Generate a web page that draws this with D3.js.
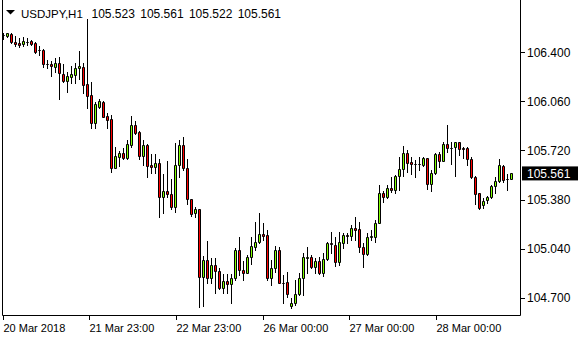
<!DOCTYPE html>
<html>
<head>
<meta charset="utf-8">
<script src="https://cdn.jsdelivr.net/npm/d3@7"></script>
<style>
  body { margin: 0; background: #fff; }
  svg { display: block; }
  text { font-family: "Liberation Sans", Arial, sans-serif; }
</style>
</head>
<body>
<div id="chart"></div>
<script>
const symbol = "USDJPY,H1";

// hourly bars
const opens = [
  106.523, 106.517, 106.531, 106.473, 106.466, 106.457, 106.473, 106.476, 106.462, 106.416,
  106.416, 106.319, 106.317, 106.300, 106.326, 106.249, 106.199, 106.231, 106.245, 106.289,
  106.298, 106.178, 106.104, 105.908, 106.023, 106.055, 105.958, 105.938, 105.600, 105.676,
  105.700, 105.667, 105.757, 105.896, 105.847, 105.683, 105.755, 105.617, 105.607, 105.631,
  105.399, 105.437, 105.416, 105.330, 105.617, 105.757, 105.596, 105.381, 105.284, 105.312,
  104.845, 104.961, 104.838, 104.926, 104.885, 104.764, 104.815, 104.794, 104.834, 105.030,
  104.891, 104.873, 104.979, 105.053, 105.083, 105.139, 105.134, 104.834, 104.903, 105.030,
  104.801, 104.806, 104.644, 104.661, 104.723, 104.834, 104.975, 104.979, 104.914, 104.954,
  104.873, 104.966, 105.081, 105.065, 104.949, 105.076, 105.134, 105.127, 105.180, 105.179,
  105.053, 105.002, 105.118, 105.118, 105.219, 105.423, 105.395, 105.462, 105.446, 105.543,
  105.589, 105.704, 105.640, 105.626, 105.628, 105.617, 105.665, 105.487, 105.561, 105.695,
  105.649, 105.764, 105.740, 105.742, 105.780, 105.739, 105.735, 105.658, 105.534, 105.423,
  105.342, 105.376, 105.395, 105.473, 105.510, 105.612, 105.525, 105.523
];
const highs = [
  106.537, 106.537, 106.533, 106.515, 106.497, 106.504, 106.501, 106.485, 106.469, 106.445,
  106.427, 106.346, 106.339, 106.358, 106.369, 106.319, 106.261, 106.305, 106.328, 106.409,
  106.328, 106.631, 106.192, 106.057, 106.074, 106.062, 105.977, 105.965, 105.742, 105.716,
  105.735, 105.792, 105.958, 105.924, 105.854, 105.792, 105.764, 105.695, 105.693, 105.658,
  105.557, 105.649, 105.522, 105.769, 105.792, 105.815, 105.658, 105.381, 105.326, 105.312,
  104.988, 105.094, 104.973, 104.973, 104.903, 104.864, 104.864, 104.862, 105.042, 105.118,
  104.956, 104.995, 105.118, 105.222, 105.288, 105.215, 105.169, 104.961, 105.058, 105.053,
  104.857, 104.880, 104.695, 104.822, 104.868, 105.011, 105.049, 104.995, 104.973, 104.979,
  105.007, 105.088, 105.157, 105.122, 105.153, 105.146, 105.150, 105.203, 105.261, 105.226,
  105.076, 105.146, 105.169, 105.238, 105.480, 105.439, 105.480, 105.538, 105.550, 105.676,
  105.751, 105.723, 105.676, 105.653, 105.676, 105.672, 105.669, 105.584, 105.704, 105.711,
  105.780, 105.896, 105.780, 105.780, 105.780, 105.746, 105.742, 105.672, 105.543, 105.423,
  105.388, 105.404, 105.480, 105.538, 105.658, 105.619, 105.557, 105.561
];
const lows = [
  106.492, 106.508, 106.462, 106.445, 106.439, 106.445, 106.450, 106.448, 106.393, 106.381,
  106.300, 106.289, 106.236, 106.265, 106.074, 106.194, 106.127, 106.189, 106.189, 106.213,
  106.116, 106.012, 105.873, 105.877, 106.012, 105.954, 105.877, 105.572, 105.600, 105.612,
  105.660, 105.658, 105.746, 105.834, 105.658, 105.619, 105.534, 105.565, 105.561, 105.256,
  105.284, 105.399, 105.316, 105.295, 105.538, 105.584, 105.349, 105.265, 105.261, 104.637,
  104.644, 104.804, 104.799, 104.730, 104.757, 104.734, 104.734, 104.661, 104.822, 104.857,
  104.822, 104.868, 104.931, 105.030, 105.076, 105.099, 104.822, 104.787, 104.880, 104.799,
  104.661, 104.706, 104.626, 104.649, 104.718, 104.718, 104.868, 104.903, 104.873, 104.864,
  104.850, 104.961, 105.011, 104.921, 104.926, 105.042, 105.081, 105.099, 105.099, 105.016,
  104.910, 104.995, 105.099, 105.088, 105.215, 105.365, 105.388, 105.434, 105.423, 105.446,
  105.543, 105.572, 105.554, 105.538, 105.584, 105.612, 105.453, 105.441, 105.557, 105.607,
  105.645, 105.711, 105.626, 105.543, 105.688, 105.665, 105.619, 105.527, 105.349, 105.314,
  105.319, 105.353, 105.393, 105.423, 105.503, 105.503, 105.446, 105.522
];
const closes = [
  106.523, 106.533, 106.469, 106.457, 106.452, 106.480, 106.473, 106.459, 106.404, 106.416,
  106.317, 106.319, 106.305, 106.326, 106.254, 106.199, 106.233, 106.249, 106.291, 106.305,
  106.175, 106.099, 105.908, 106.042, 106.062, 105.954, 105.931, 105.600, 105.679, 105.702,
  105.667, 105.764, 105.896, 105.843, 105.683, 105.755, 105.612, 105.607, 105.631, 105.399,
  105.437, 105.420, 105.330, 105.617, 105.757, 105.596, 105.381, 105.277, 105.312, 104.845,
  104.961, 104.838, 104.926, 104.885, 104.764, 104.815, 104.794, 104.834, 105.030, 104.891,
  104.873, 104.979, 105.058, 105.083, 105.139, 105.129, 104.834, 104.903, 105.030, 104.799,
  104.801, 104.723, 104.661, 104.723, 104.834, 104.979, 104.979, 104.914, 104.954, 104.868,
  104.966, 105.081, 105.072, 104.949, 105.083, 105.134, 105.125, 105.180, 105.171, 105.051,
  105.002, 105.122, 105.127, 105.219, 105.423, 105.395, 105.462, 105.446, 105.543, 105.589,
  105.700, 105.635, 105.624, 105.626, 105.624, 105.665, 105.487, 105.561, 105.695, 105.649,
  105.764, 105.735, 105.736, 105.776, 105.728, 105.728, 105.658, 105.534, 105.418, 105.323,
  105.371, 105.395, 105.473, 105.510, 105.619, 105.515, 105.520, 105.561
];

const priceTicks = [104.7, 105.04, 105.38, 105.72, 106.06, 106.4];
// time labels and the (fractional) bar index they sit on
const timeLabels = ["20 Mar 2018", "21 Mar 23:00", "22 Mar 23:00", "26 Mar 00:00", "27 Mar 00:00", "28 Mar 00:00"];
const timeIndex = [-0.2, 21.45, 43.1, 64.8, 86.45, 108.1];

class CandleChart {
  constructor(_config) {
    this.config = {
      parentElement: _config.parentElement,
      width: _config.width || 580,
      height: _config.height || 340,
      plotRight: 520.5,
      plotBottom: 315.5,
      plotLeft: 2.5,
    };
    this.initVis();
  }

  initVis() {
    let vis = this;
    let cfg = vis.config;

    vis.svg = d3.select(cfg.parentElement).append("svg")
      .attr("width", cfg.width)
      .attr("height", cfg.height);

    vis.bars = opens.map((o, i) => ({ i, o, h: highs[i], l: lows[i], c: closes[i] }));

    vis.x = d3.scaleLinear().domain([0, vis.bars.length - 1]).range([3.5, 511.5]);
    vis.y = d3.scaleLinear().domain([104.7, 106.4]).range([297.6, 52.4]);

    vis.renderVis();
  }

  renderVis() {
    let vis = this;
    let cfg = vis.config;
    const py = (p) => Math.round(vis.y(p)) + 0.5;

    // frame
    vis.svg.append("path")
      .attr("d", `M${cfg.plotLeft},0V${cfg.plotBottom}H${cfg.plotRight}V0`)
      .attr("fill", "none")
      .attr("stroke", "#000");

    // price axis
    let yAxis = vis.svg.append("g");
    yAxis.selectAll("line").data(priceTicks).join("line")
      .attr("x1", 521).attr("x2", 525)
      .attr("y1", (d) => py(d)).attr("y2", (d) => py(d))
      .attr("stroke", "#000");
    yAxis.selectAll("text").data(priceTicks).join("text")
      .attr("x", 527)
      .attr("y", (d) => vis.y(d) + 4.3)
      .attr("font-size", 12)
      .attr("fill", "#000")
      .text((d) => d.toFixed(3));

    // time axis
    let xAxis = vis.svg.append("g");
    xAxis.selectAll("line").data(timeIndex).join("line")
      .attr("x1", (d) => Math.round(vis.x(d)) + 0.5)
      .attr("x2", (d) => Math.round(vis.x(d)) + 0.5)
      .attr("y1", 316).attr("y2", 320)
      .attr("stroke", "#000");
    xAxis.selectAll("text").data(timeLabels).join("text")
      .attr("x", (d, k) => Math.round(vis.x(timeIndex[k])) + 0.5)
      .attr("y", 332)
      .attr("font-size", 11)
      .attr("fill", "#000")
      .text((d) => d);

    // candles
    let g = vis.svg.append("g");
    g.selectAll(".wick").data(vis.bars).join("line")
      .attr("class", "wick")
      .attr("x1", (d) => vis.x(d.i)).attr("x2", (d) => vis.x(d.i))
      .attr("y1", (d) => py(d.h) - 0.5).attr("y2", (d) => py(d.l) + 0.5)
      .attr("stroke", "#000");

    g.selectAll(".body").data(vis.bars).join("path")
      .attr("class", "body")
      .attr("d", (d) => {
        let x0 = vis.x(d.i) - 1, x1 = vis.x(d.i) + 1;
        let y0 = py(Math.max(d.o, d.c)), y1 = py(Math.min(d.o, d.c));
        return `M${x0},${y0}H${x1}V${y1}H${x0}Z`;
      })
      .attr("fill", (d) => (d.c > d.o ? "#80ff00" : d.c < d.o ? "#ff0000" : "none"))
      .attr("stroke", "#000");

    // current price marker
    let last = vis.bars[vis.bars.length - 1];
    vis.svg.append("rect")
      .attr("x", 522).attr("y", vis.y(last.c) - 7)
      .attr("width", 56).attr("height", 14)
      .attr("fill", "#000");
    vis.svg.append("text")
      .attr("x", 527).attr("y", vis.y(last.c) + 4.3)
      .attr("font-size", 12)
      .attr("fill", "#fff")
      .text(last.c.toFixed(3));

    // title
    vis.svg.append("path")
      .attr("d", "M6,10H15L10.5,14.5Z")
      .attr("fill", "#000");
    vis.svg.append("text")
      .attr("x", 21).attr("y", 17.5)
      .attr("font-size", 11.5)
      .attr("fill", "#000")
      .text(symbol);
    vis.svg.append("text")
      .attr("x", 91.5).attr("y", 17.5)
      .attr("font-size", 12)
      .attr("word-spacing", 2)
      .attr("fill", "#000")
      .text([last.o, last.h, last.l, last.c].map((v) => v.toFixed(3)).join(" "));
  }
}

new CandleChart({ parentElement: "#chart" });
</script>
</body>
</html>
